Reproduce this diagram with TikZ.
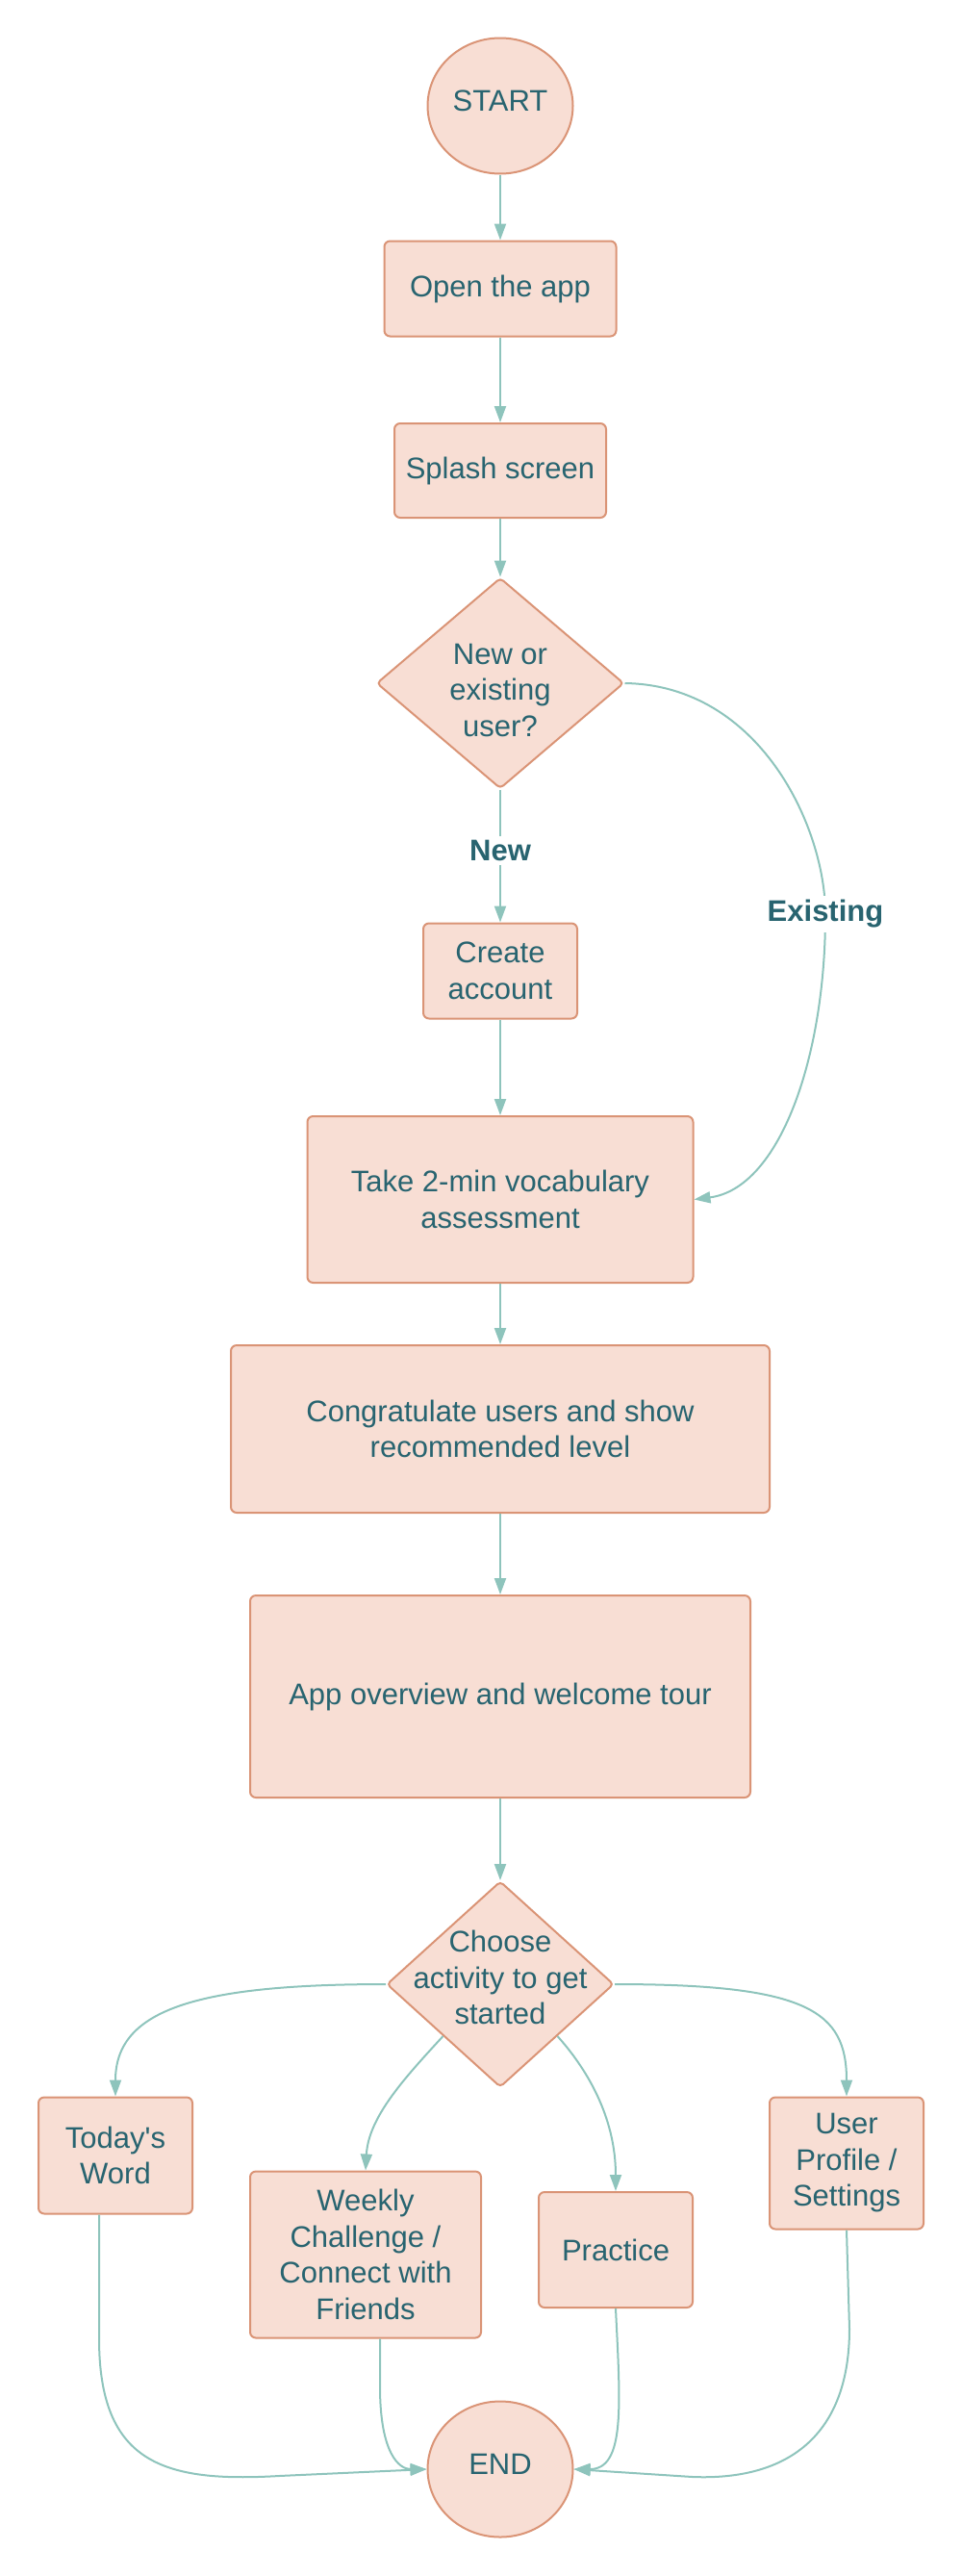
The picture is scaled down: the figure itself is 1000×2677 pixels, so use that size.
\documentclass[tikz,border=0pt]{standalone}
\usepackage{fontspec}
\setmainfont{Liberation Sans}
\usetikzlibrary{shapes.geometric,arrows.meta,calc}
\definecolor{boxfill}{RGB}{248,222,212}
\definecolor{boxdraw}{RGB}{218,148,118}
\definecolor{txt}{RGB}{40,100,112}
\definecolor{conn}{RGB}{142,196,188}
\begin{document}
\begin{tikzpicture}[x=1pt,y=-1pt,
  every node/.style={font=\fontsize{31}{37.5}\selectfont, text=txt},
  box/.style={rectangle, rounded corners=6pt, draw=boxdraw, fill=boxfill, line width=2pt, align=center, inner sep=0pt},
  term/.style={ellipse, draw=boxdraw, fill=boxfill, line width=2pt, minimum width=151pt, minimum height=141pt, inner sep=0pt},
  dec/.style={diamond, draw=boxdraw, fill=boxfill, line width=2pt, rounded corners=4pt, inner sep=0pt},
  link/.style={draw=conn, line width=2pt, -{Triangle[length=17pt,width=12pt]}},
  edgelbl/.style={fill=white, font=\bfseries\fontsize{31}{37.5}\selectfont, inner sep=4pt}
]
\useasboundingbox (0,0) rectangle (1000,2677);

\node[term, label={[yshift=5pt]center:START}] (start) at (520,110) {};
\node[box, minimum width=241pt, minimum height=99pt] (open) at (520,300) {Open the app};
\node[box, minimum width=220pt, minimum height=98pt] (splash) at (520,489) {Splash screen};
\node[dec, minimum width=257pt, minimum height=219pt,
      label={[align=center, yshift=-7pt]center:{New or\\existing\\user?}}] (d1) at (520,710) {};
\node[box, minimum width=160pt, minimum height=99pt] (create) at (520,1009) {Create\\account};
\node[box, minimum width=401pt, minimum height=173pt] (take) at (520,1246.5) {Take 2-min vocabulary\\assessment};
\node[box, minimum width=560pt, minimum height=174pt] (cong) at (520,1485) {Congratulate users and show\\recommended level};
\node[box, minimum width=520pt, minimum height=210pt] (tour) at (520,1763) {App overview and welcome tour};
\node[dec, minimum width=236pt, minimum height=214pt,
      label={[align=center, yshift=7pt]center:{Choose\\activity to get\\started}}] (d2) at (520,2062) {};
\node[box, minimum width=160pt, minimum height=121pt] (word) at (120,2240) {Today\textquotesingle s\\Word};
\node[box, minimum width=240pt, minimum height=173pt] (week) at (380,2343) {Weekly\\Challenge /\\Connect with\\Friends};
\node[box, minimum width=160pt, minimum height=120pt] (prac) at (640,2338) {Practice};
\node[box, minimum width=160pt, minimum height=137pt] (prof) at (880,2248) {User\\Profile /\\Settings};
\node[term, label={[yshift=5pt]center:END}] (end) at (520,2566) {};

\draw[link] (start) -- (open);
\draw[link] (open) -- (splash);
\draw[link] (splash) -- (d1);
\draw[link] (d1) -- node[edgelbl, pos=0.46]{New} (create);
\draw[link] (create) -- (take);
\draw[link] (d1.east) .. controls (790,712) and (858,860) .. (858,950) node[edgelbl]{Existing}
            .. controls (858,1100) and (810,1235) .. (take.east);
\draw[link] (take) -- (cong);
\draw[link] (cong) -- (tour);
\draw[link] (tour) -- (d2);

\draw[link] (d2.west) .. controls (200,2062) and (120,2090) .. (word.north);
\draw[link] (d2.east) .. controls (840,2062) and (880,2090) .. (prof.north);
\draw[link] (d2.south west) .. controls (421,2159) and (383,2200) .. (week.north);
\draw[link] (d2.south east) .. controls (610,2150) and (640,2200) .. (prac.north);

\draw[link] ([xshift=-17pt]word.south) -- (103,2430) .. controls (103,2560) and (170,2580) .. (290,2573) -- (end.west);
\draw[link] ([xshift=15pt]week.south) -- (395,2480) .. controls (395,2550) and (415,2566) .. (end.west);
\draw[link] (prac.south) .. controls (645,2500) and (650,2566) .. (end.east);
\draw[link] (prof.south) -- (883,2420) .. controls (883,2530) and (820,2578) .. (720,2574) -- (end.east);
\end{tikzpicture}
\end{document}
